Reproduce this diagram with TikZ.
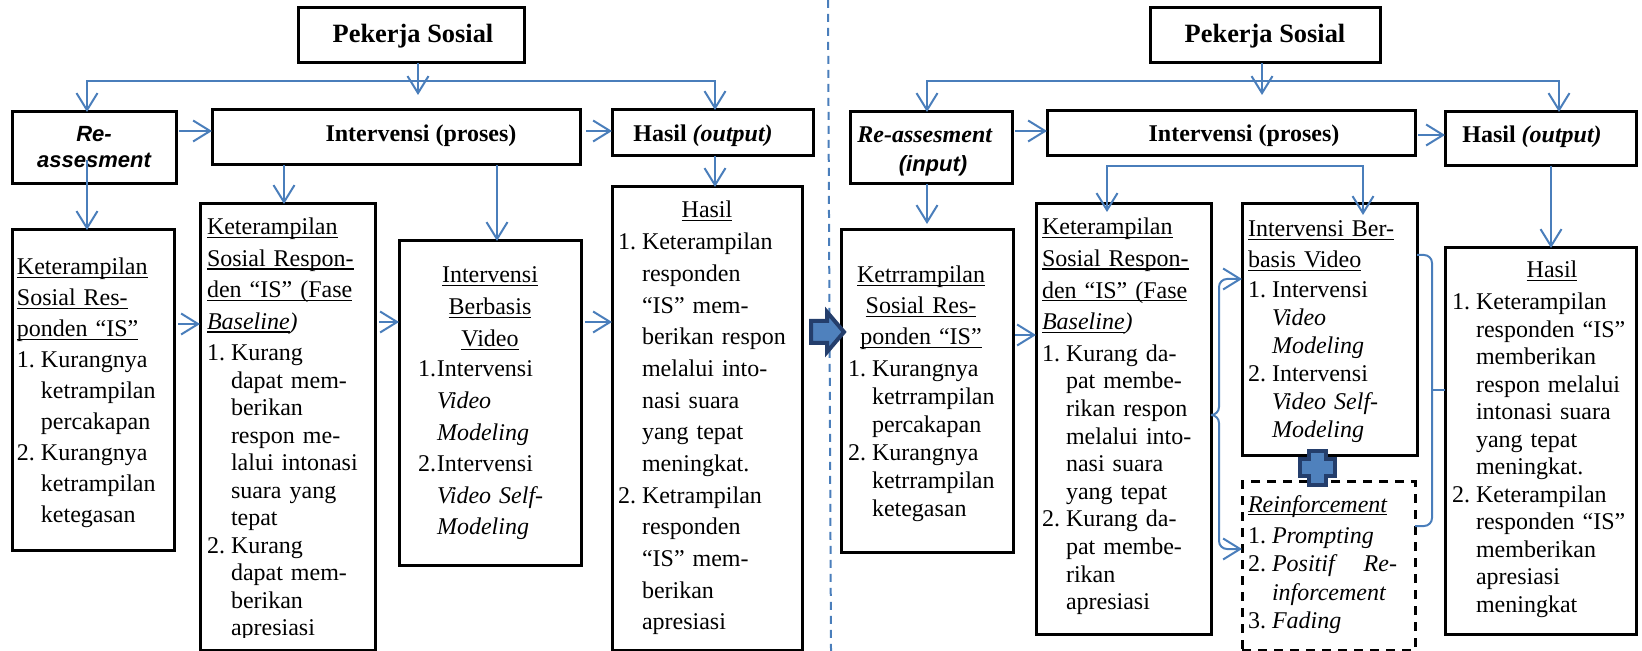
\documentclass[tikz,border=0pt]{standalone}
\usepackage{fontspec}
\setmainfont{Liberation Serif}
\newfontfamily\arialf{Liberation Sans}
\usetikzlibrary{arrows.meta}
\definecolor{lblue}{RGB}{74,126,187}
\definecolor{navyb}{RGB}{36,62,108}
\definecolor{midb}{RGB}{79,129,189}
\newlength\ind
\setlength\ind{12pt}
\newcommand\nb[1]{\leavevmode\makebox[\ind][l]{#1}}
\newcommand\ct{\leavevmode\hspace*{\ind}}
\newcommand\uln[1]{\leavevmode\setbox0\hbox{#1}\rlap{\rule[-1.6pt]{\wd0}{0.65pt}}\box0}
\hyphenpenalty=10000
\exhyphenpenalty=10000
\begin{document}
\begin{tikzpicture}[x=0.5pt,y=-0.5pt,
  box/.style={draw=black,line width=1.5pt,inner sep=0pt,outer sep=0pt,anchor=north west},
  dbox/.style={box,dash pattern=on 4.5pt off 3.5pt},
  bl/.style={draw=lblue,line width=1pt},
  conn/.style={bl,-{Straight Barb[length=8.5pt,width=10.5pt]}},
  conn2/.style={bl,{Straight Barb[length=8.5pt,width=10.5pt]}-{Straight Barb[length=8.5pt,width=10.5pt]}},
  txt/.style={inner sep=0pt,outer sep=0pt,anchor=base west,align=left,text width=#1},
  ctxt/.style={inner sep=0pt,outer sep=0pt,anchor=base,align=center,text width=#1},
  fs/.style={font=\fontsize{12}{#1}\selectfont},
  hd/.style={inner sep=0pt,anchor=base,font=\fontsize{#1}{14}\selectfont\bfseries},
  sanshd/.style={font=\arialf\fontsize{11}{13}\selectfont\bfseries\itshape},
]
\useasboundingbox (0,0) rectangle (1642,651);

% ---------- left boxes ----------
\node[box,minimum width=113pt,minimum height=27.5pt] (P1) at (298,8) {};
\node[box,minimum width=82pt,minimum height=36pt] (R1) at (12,112) {};
\node[box,minimum width=184pt,minimum height=27.5pt] (I1) at (212,110) {};
\node[box,minimum width=100.5pt,minimum height=23pt] (H1) at (612,110) {};
\node[box,minimum width=81pt,minimum height=160pt] (A1) at (12,230) {};
\node[box,minimum width=87.5pt,minimum height=223pt] (B1) at (200,204) {};
\node[box,minimum width=91pt,minimum height=162pt] (C1) at (399,241) {};
\node[box,minimum width=95pt,minimum height=231.5pt] (D1) at (612,187) {};

% ---------- right boxes ----------
\node[box,minimum width=115pt,minimum height=27.5pt] (P2) at (1150,8) {};
\node[box,minimum width=81pt,minimum height=36pt] (R2) at (850,112) {};
\node[box,minimum width=184pt,minimum height=22.5pt] (I2) at (1047,111) {};
\node[box,minimum width=95.5pt,minimum height=27pt] (H2) at (1445,112) {};
\node[box,minimum width=86pt,minimum height=161pt] (A2) at (841,230) {};
\node[box,minimum width=87.5pt,minimum height=215pt] (B2) at (1036,204) {};
\node[box,minimum width=87.5pt,minimum height=126pt] (C2) at (1242,204) {};
\node[dbox,minimum width=86.5pt,minimum height=84pt] (E2) at (1242,482) {};
\node[box,minimum width=95.5pt,minimum height=193pt] (D2) at (1445,248) {};

% ---------- left texts ----------
\node[hd=13.2] (tP1) at (413,43) {Pekerja Sosial};
\node[ctxt=80pt,sanshd] (tR1) at (94,142) {Re-\\assesment};
\node[hd=12] (tI1) at (421,142) {Intervensi (proses)};
\node[hd=12] (tH1) at (703,142) {Hasil \textit{(output)}};

\node[txt=80pt,fs=15.45pt] (tA1) at (17,275) {\uln{Keterampilan}\\ \uln{Sosial Res-}\\ \uln{ponden “IS”}\\ \nb{1.}Kurangnya\\ \ct ketrampilan\\ \ct percakapan\\ \nb{2.}Kurangnya\\ \ct ketrampilan\\ \ct ketegasan};

\begin{scope}
\clip (200,204) rectangle (375,637);
\node[txt=85pt,fs=13.75pt] (tB1) at (207,235) {\uln{Keterampilan}\\[2pt] \uln{Sosial Respon-}\\[2pt] \uln{den “IS” (Fase}\\[2pt] \textit{\uln{Baseline})}\\[2pt] \nb{1.}Kurang\\ \ct dapat mem-\\ \ct berikan\\ \ct respon me-\\ \ct lalui intonasi\\ \ct suara yang\\ \ct tepat\\ \nb{2.}Kurang\\ \ct dapat mem-\\ \ct berikan\\ \ct apresiasi};
\end{scope}

\node[ctxt=85pt,fs=16pt] (tC1h) at (490,283) {\uln{Intervensi}\\ \uln{Berbasis}\\ \uln{Video}};
\node[txt=85pt,fs=15.8pt] (tC1i) at (418,377) {\setlength\ind{9.5pt}\nb{1.}Intervensi\\ \ct\textit{Video}\\ \ct\textit{Modeling}\\ \nb{2.}Intervensi\\ \ct\textit{Video Self-}\\ \ct\textit{Modeling}};

\node[ctxt=90pt,fs=15.8pt] (tD1h) at (707,218) {\uln{Hasil}};
\node[txt=90pt,fs=15.83pt] (tD1i) at (618,250) {\nb{1.}Keterampilan\\ \ct responden\\ \ct “IS” mem-\\ \ct berikan respon\\ \ct melalui into-\\ \ct nasi suara\\ \ct yang tepat\\ \ct meningkat.\\ \nb{2.}Ketrampilan\\ \ct responden\\ \ct “IS” mem-\\ \ct berikan\\ \ct apresiasi};

% ---------- right texts ----------
\node[hd=13.2] (tP2) at (1265,43) {Pekerja Sosial};
\node[hd=12] (tR2a) at (925,143) {\textit{Re-assesment}};
\node[inner sep=0pt,anchor=base,sanshd] (tR2b) at (933,172) {(input)};
\node[hd=12] (tI2) at (1244,142) {Intervensi (proses)};
\node[hd=12] (tH2) at (1532,143) {Hasil \textit{(output)}};

\node[ctxt=84pt,fs=15.5pt] (tA2h) at (921,283) {\uln{Ketrrampilan}\\ \uln{Sosial Res-}\\ \uln{ponden “IS”}};
\node[txt=85pt,fs=14pt] (tA2i) at (848,377) {\nb{1.}Kurangnya\\ \ct ketrrampilan\\ \ct percakapan\\ \nb{2.}Kurangnya\\ \ct ketrrampilan\\ \ct ketegasan};

\node[txt=85pt,fs=13.8pt] (tB2) at (1042,235) {\uln{Keterampilan}\\[2pt] \uln{Sosial Respon-}\\[2pt] \uln{den “IS” (Fase}\\[2pt] \textit{\uln{Baseline})}\\[2pt] \nb{1.}Kurang da-\\ \ct pat membe-\\ \ct rikan respon\\ \ct melalui into-\\ \ct nasi suara\\ \ct yang tepat\\ \nb{2.}Kurang da-\\ \ct pat membe-\\ \ct rikan\\ \ct apresiasi};

\node[txt=85pt,fs=14pt] (tC2) at (1248,237) {\uln{Intervensi Ber-}\\[1.5pt] \uln{basis Video}\\[1pt] \nb{1.}Intervensi\\ \ct\textit{Video}\\ \ct\textit{Modeling}\\ \nb{2.}Intervensi\\ \ct\textit{Video Self-}\\ \ct\textit{Modeling}};

\node[txt=74.5pt,fs=14.3pt] (tE2) at (1248,512) {\textit{\uln{Reinforcement}}\\[1.2pt] \nb{1.}\textit{Prompting}\\ \nb{2.}\textit{Positif}\hfill\textit{Re-}\\ \ct\textit{inforcement}\\ \nb{3.}\textit{Fading}};

\node[ctxt=90pt,fs=14pt] (tD2h) at (1552,278) {\uln{Hasil}};
\node[txt=92pt,fs=13.75pt] (tD2i) at (1452,310) {\nb{1.}Keterampilan\\ \ct responden “IS”\\ \ct memberikan\\ \ct respon melalui\\ \ct intonasi suara\\ \ct yang tepat\\ \ct meningkat.\\ \nb{2.}Keterampilan\\ \ct responden “IS”\\ \ct memberikan\\ \ct apresiasi\\ \ct meningkat};

% ---------- left connectors ----------
\coordinate (t1) at (418,95);
\draw[conn] (P1.south -| t1) -- (t1);
\coordinate (hl1) at (87,81);
\coordinate (hr1) at (715,81);
\draw[conn2] (R1.north -| hl1) -- (hl1) -- (hr1) -- (H1.north -| hr1);
\draw[conn,shorten <=1.5pt] (R1.east |- 0,131) -- (I1.west |- 0,131);
\draw[conn,shorten <=3pt] (I1.east |- 0,131) -- (H1.west |- 0,131);
\draw[conn] (I1.south -| 284,0) -- (B1.north -| 284,0);
\draw[conn] (I1.south -| 497,0) -- (C1.north -| 497,0);
\draw[conn] (H1.south -| hr1) -- (D1.north -| hr1);
\coordinate (r1s) at (87,160);
\draw[conn] (r1s) -- (A1.north -| r1s);
\draw[conn,shorten <=2pt] (A1.east |- 0,324) -- (B1.west |- 0,324);
\draw[conn,shorten <=2pt] (B1.east |- 0,322) -- (C1.west |- 0,322);
\draw[conn,shorten <=2pt] (C1.east |- 0,322) -- (D1.west |- 0,322);

% ---------- separator and block arrow ----------
\draw[lblue,line width=1pt,dash pattern=on 4pt off 3pt] (828,0) -- (831,651);
\draw[navyb,line width=2pt,fill=midb,line join=miter] (811,321) -- (827,321) -- (827,312) -- (844,332) -- (827,352) -- (827,343) -- (811,343) -- cycle;

% ---------- right connectors ----------
\coordinate (t2) at (1262,95);
\draw[conn] (P2.south -| t2) -- (t2);
\coordinate (hl2) at (927,81);
\coordinate (hr2) at (1559,81);
\draw[conn2] (R2.north -| hl2) -- (hl2) -- (hr2) -- (H2.north -| hr2);
\draw[conn,shorten <=1.5pt] (R2.east |- 0,131) -- (I2.west |- 0,131);
\draw[conn,shorten <=1.5pt] (I2.east |- 0,135) -- (H2.west |- 0,135);
\draw[conn,shorten >=3pt] (R2.south -| hl2) -- (A2.north -| hl2);
\coordinate (bl2) at (1107,212);
\coordinate (br2) at (1363,215);
\draw[conn2] (bl2) -- (1107,166) -- (1363,166) -- (br2);
\draw[conn] (H2.south -| 1551,0) -- (D2.north -| 1551,0);
\draw[conn,shorten <=1pt] (A2.east |- 0,335) -- (B2.west |- 0,335);
\coordinate (lb) at (1219,415);
\draw[conn,rounded corners=4pt] (B2.east |- lb) -- (lb) -- (1219,279) -- (C2.west |- 0,279);
\draw[conn,rounded corners=4pt] (B2.east |- lb) -- (lb) -- (1219,549) -- (E2.west |- 0,549);
\coordinate (rb) at (1432,390);
\draw[bl,rounded corners=4pt] (C2.east |- 0,255) -- (1432,255) -- (1432,526) -- (E2.east |- 0,526);
\draw[bl] (rb) -- (D2.west |- rb);

% ---------- plus sign ----------
\draw[navyb,line width=2pt,fill=midb,line join=miter]
  (1308.5,451) -- (1325.5,451) -- (1325.5,459.5) -- (1334.5,459.5) -- (1334.5,476.5) -- (1325.5,476.5) -- (1325.5,485) -- (1308.5,485) -- (1308.5,476.5) -- (1299.5,476.5) -- (1299.5,459.5) -- (1308.5,459.5) -- cycle;
\end{tikzpicture}
\end{document}
